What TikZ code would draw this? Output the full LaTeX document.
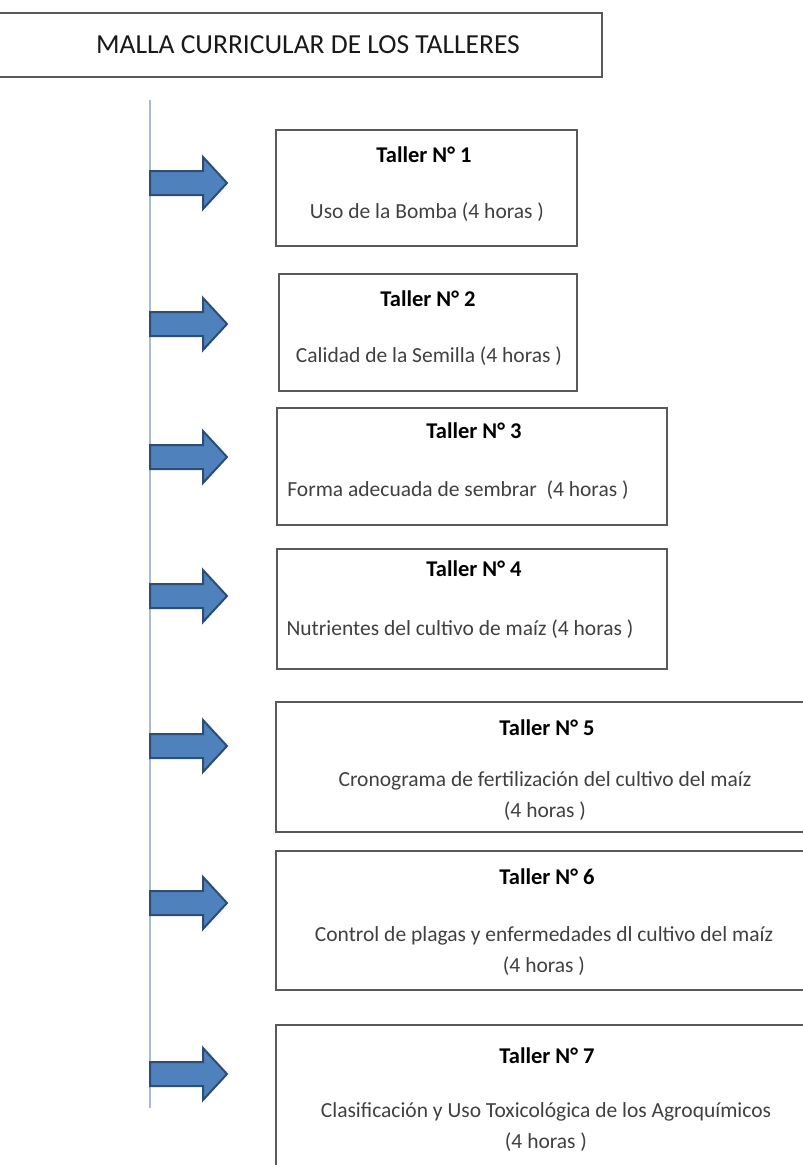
\documentclass[tikz,border=0pt]{standalone}
\usepackage{fontspec}
\setmainfont{Carlito}
\usetikzlibrary{calc}
\definecolor{arrowblue}{HTML}{4F81BD}
\definecolor{arrowedge}{HTML}{2C4D75}
\definecolor{spineblue}{HTML}{A7BBD4}
\definecolor{boxedge}{HTML}{595959}
\definecolor{textgray}{HTML}{404040}

\begin{document}
\begin{tikzpicture}
        [x=1pt,y=-1pt]
            \tikzstyle{box}=[draw=boxedge, line width=1.6pt, inner sep=0pt]
            \tikzstyle{head}=[font=\fontsize{22.5}{25}\selectfont\bfseries, text=black, inner sep=0pt]
            \tikzstyle{desc}=[font=\fontsize{21.5}{31}\selectfont, text=textgray, inner sep=0pt, align=center]
            \tikzstyle{blockarrow}=[fill=arrowblue, draw=arrowedge, line width=2pt, line join=miter]
        \useasboundingbox (0,0) rectangle (803,1165);
        \clip (0,0) rectangle (803,1165);

        %-----titulo
         \node[box, minimum width=620pt, minimum height=64pt] (title) at (292,45) {};
         \node[font=\fontsize{27.5}{30}\selectfont, text=black!90, inner sep=0pt] (ttext) at (308,45) {MALLA CURRICULAR DE LOS TALLERES};

        %-----linea
         \coordinate (top) at (150,100);
         \coordinate (bot) at (150,1108);
         \draw[spineblue, line width=2pt] (top) -- (bot);

        %-----talleres
         \node[box, minimum width=301pt, minimum height=116pt] (t1) at (426.5,188) {};
         \node[head] (h1) at (424,155) {Taller N° 1};
         \node[desc] (d1) at (427,212) {Uso de la Bomba (4 horas )};

         \node[box, minimum width=298pt, minimum height=117pt] (t2) at (428,332.5) {};
         \node[head] (h2) at (428,299) {Taller N° 2};
         \node[desc] (d2) at (429,356) {Calidad de la Semilla (4 horas )};

         \node[box, minimum width=390pt, minimum height=117pt] (t3) at (472,466.5) {};
         \node[head] (h3) at (474,431) {Taller N° 3};
         \node[desc] (d3) at (458,490) {Forma adecuada de sembrar~ (4 horas )};

         \node[box, minimum width=390pt, minimum height=120pt] (t4) at (472,609) {};
         \node[head] (h4) at (474,569) {Taller N° 4};
         \node[desc] (d4) at (460,629) {Nutrientes del cultivo de maíz (4 horas )};

         \node[box, minimum width=538pt, minimum height=130pt] (t5) at (545,767) {};
         \node[head] (h5) at (547,728) {Taller N° 5};
         \node[desc] (d5) at (545,796) {Cronograma de fertilización del cultivo del maíz\\(4 horas )};

         \node[box, minimum width=538pt, minimum height=139pt] (t6) at (545,920.5) {};
         \node[head] (h6) at (547,877) {Taller N° 6};
         \node[desc] (d6) at (544,951) {Control de plagas y enfermedades dl cultivo del maíz\\(4 horas )};

         \node[box, minimum width=538pt, minimum height=160pt] (t7) at (545,1105) {};
         \node[head] (h7) at (547,1056) {Taller N° 7};
         \node[desc] (d7) at (546,1127) {Clasificación y Uso Toxicológica de los Agroquímicos\\(4 horas )};

        %-----flechas
         \foreach \n/\y in {1/183,2/324,3/457,4/596,5/746,6/903,7/1074}
         {
         \coordinate (a\n) at (top |- 0,\y);
         \draw[blockarrow] (a\n) ++(0,-12) -- ++(53,0) -- ++(0,-14) -- ++(24,26)
               -- ++(-24,26) -- ++(0,-14) -- ++(-53,0) -- cycle;
         }
\end{tikzpicture}
\end{document}
